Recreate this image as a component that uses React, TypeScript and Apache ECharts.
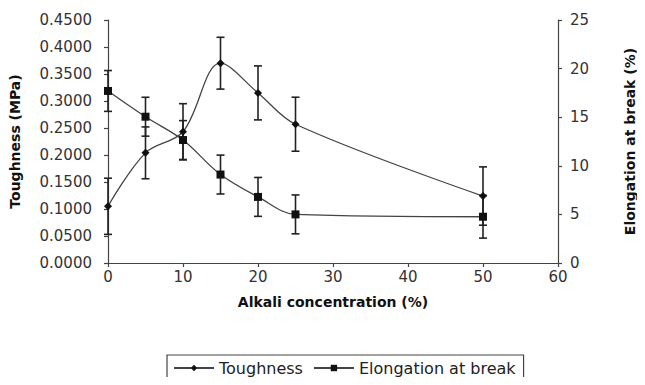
import React, { useEffect, useRef } from "react";
import * as echarts from "echarts";

const concentrations = [0, 5, 10, 15, 20, 25, 50];
const toughness = [0.105, 0.204, 0.243, 0.37, 0.315, 0.257, 0.124];
const toughnessErr = [0.052, 0.048, 0.052, 0.048, 0.05, 0.05, 0.054];
const elongation = [17.7, 15.05, 12.65, 9.1, 6.8, 5.0, 4.76];
const elongationErr = [2.1, 2.0, 2.0, 2.0, 2.0, 2.0, 2.2];
const leftTicks = { min: 0, max: 0.45, interval: 0.05 };
const rightTicks = { min: 0, max: 25, interval: 5 };
const xTicks = { min: 0, max: 60, interval: 10 };

const FONT = "DejaVu Sans";
const INK = "#222";

function errorRender(params: any, api: any) {
  const x = api.value(0);
  const y = api.value(1);
  const e = api.value(2);
  const top = api.coord([x, y + e]);
  const bot = api.coord([x, y - e]);
  const cap = 4;
  const style = { stroke: INK, lineWidth: 1.6 };
  return {
    type: "group",
    children: [
      { type: "line", shape: { x1: top[0], y1: top[1], x2: bot[0], y2: bot[1] }, style },
      { type: "line", shape: { x1: top[0] - cap, y1: top[1], x2: top[0] + cap, y2: top[1] }, style },
      { type: "line", shape: { x1: bot[0] - cap, y1: bot[1], x2: bot[0] + cap, y2: bot[1] }, style },
    ],
  };
}

export default function App() {
  const ref = useRef<HTMLDivElement>(null);
  useEffect(() => {
    if (!ref.current) return;
    const chart = echarts.init(ref.current, undefined, { renderer: "svg" });
    const tData = concentrations.map((c, i) => [c, toughness[i]]);
    const eData = concentrations.map((c, i) => [c, elongation[i]]);
    const tErr = concentrations.map((c, i) => [c, toughness[i], toughnessErr[i]]);
    const eErr = concentrations.map((c, i) => [c, elongation[i], elongationErr[i]]);
    const axisLine = { show: true, lineStyle: { color: "#444", width: 1.2 } };
    const axisTick = { show: true, length: 4, lineStyle: { color: "#444", width: 1.2 } };
    const axisLabel = { color: "#333", fontFamily: FONT, fontSize: 15 };
    const nameStyle = { color: "#111", fontFamily: FONT, fontSize: 14, fontWeight: "bold" as const };
    chart.setOption({
      animation: false,
      backgroundColor: "#fff",
      grid: { left: 108, right: 82, top: 20, bottom: 122 },
      legend: {
        left: 167,
        top: 355,
        padding: [5, 8, 20, 6],
        borderColor: "#444",
        borderWidth: 1.2,
        itemWidth: 40,
        itemHeight: 8,
        itemGap: 10,
        textStyle: { color: "#222", fontFamily: FONT, fontSize: 16 },
        data: ["Toughness", "Elongation at break"],
      },
      xAxis: {
        type: "value",
        ...xTicks,
        name: "Alkali concentration (%)",
        nameLocation: "middle",
        nameGap: 32,
        nameTextStyle: nameStyle,
        axisLine,
        axisTick,
        axisLabel: { ...axisLabel, margin: 6 },
        splitLine: { show: false },
      },
      yAxis: [
        {
          type: "value",
          ...leftTicks,
          name: "Toughness (MPa)",
          nameLocation: "middle",
          nameRotate: 90,
          nameGap: 86,
          nameTextStyle: nameStyle,
          axisLine,
          axisTick,
          axisLabel: { ...axisLabel, margin: 16, formatter: (v: number) => v.toFixed(4) },
          splitLine: { show: false },
        },
        {
          type: "value",
          ...rightTicks,
          position: "right",
          name: "Elongation at break (%)",
          nameLocation: "middle",
          nameRotate: 90,
          nameGap: 65,
          nameTextStyle: nameStyle,
          axisLine,
          axisTick,
          axisLabel: { ...axisLabel, margin: 12 },
          splitLine: { show: false },
        },
      ],
      series: [
        {
          name: "Toughness",
          type: "line",
          yAxisIndex: 0,
          data: tData,
          smooth: 0.35,
          symbol: "diamond",
          symbolSize: 8,
          itemStyle: { color: "#111" },
          lineStyle: { color: "#444", width: 1.3 },
          z: 3,
        },
        {
          name: "Elongation at break",
          type: "line",
          yAxisIndex: 1,
          data: eData,
          smooth: 0.35,
          symbol: "rect",
          symbolSize: 8,
          itemStyle: { color: "#111" },
          lineStyle: { color: "#444", width: 1.3 },
          z: 3,
        },
        {
          type: "custom",
          yAxisIndex: 0,
          renderItem: errorRender,
          data: tErr,
          z: 2,
          silent: true,
        },
        {
          type: "custom",
          yAxisIndex: 1,
          renderItem: errorRender,
          data: eErr,
          z: 2,
          silent: true,
        },
      ],
    });
    return () => chart.dispose();
  }, []);
  return <div ref={ref} style={{ width: 645, height: 385, margin: -8 }} />;
}
